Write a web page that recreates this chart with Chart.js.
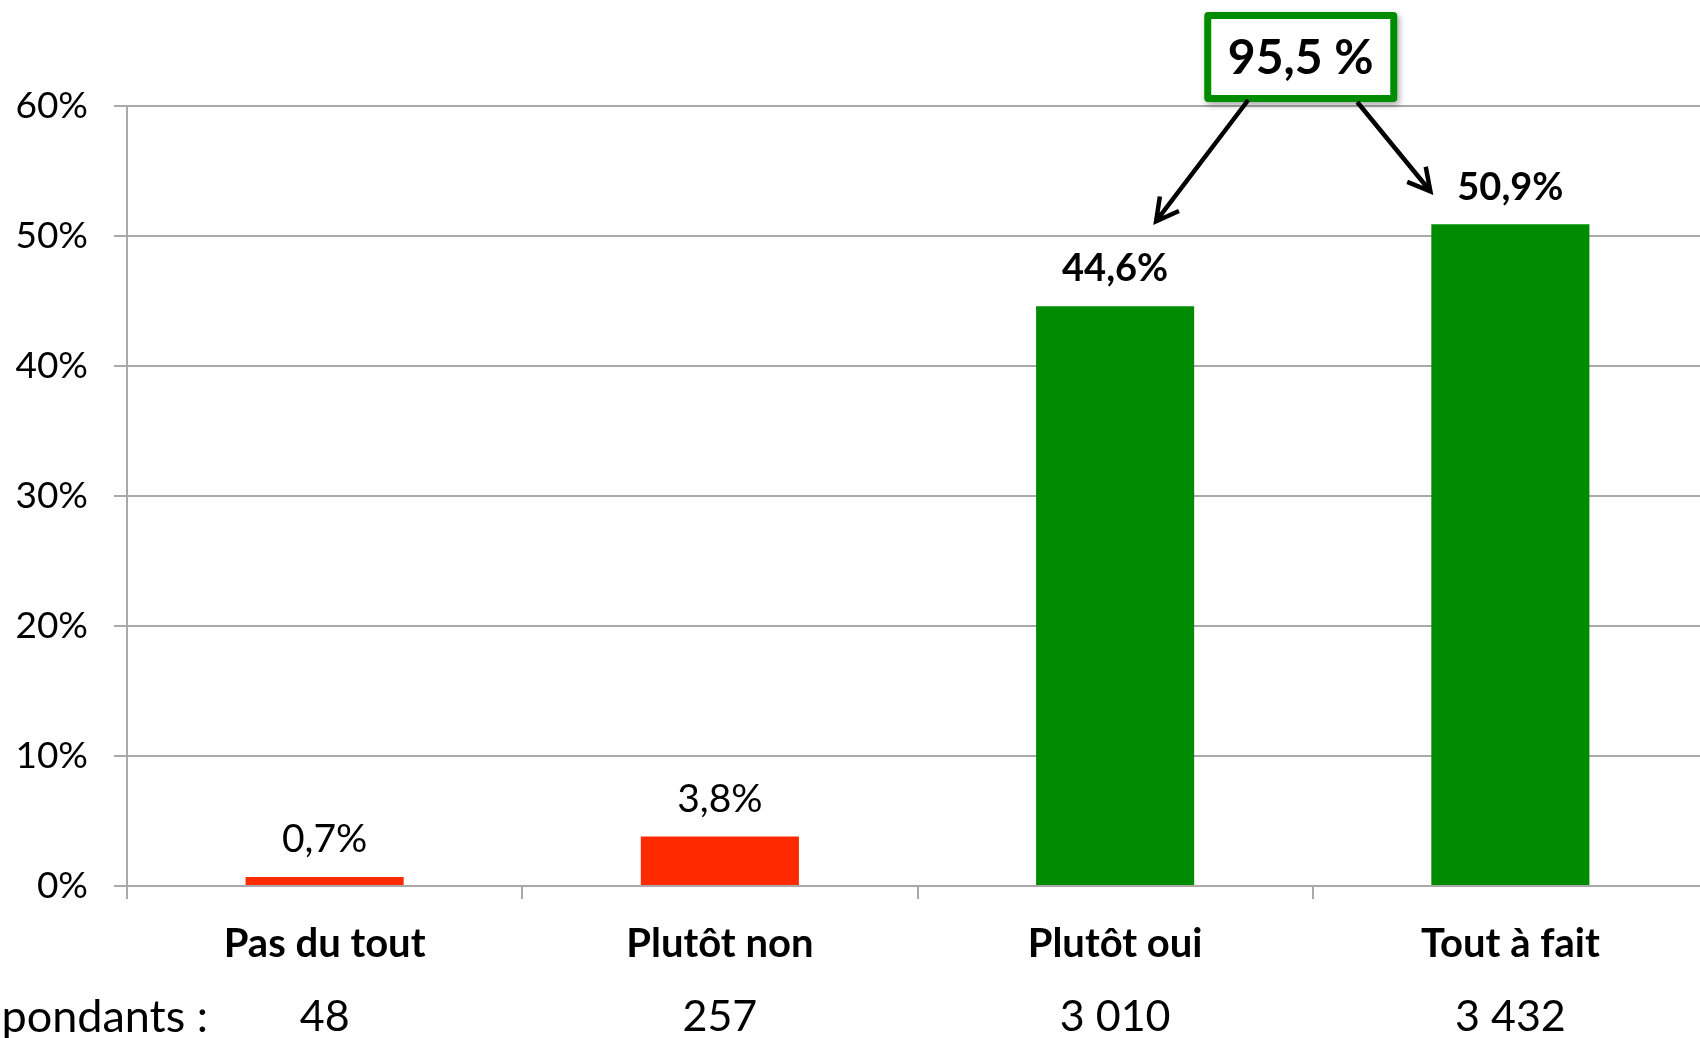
<!DOCTYPE html>
<html lang="fr">
<head>
<meta charset="utf-8">
<script src="https://cdn.jsdelivr.net/npm/chart.js@4.4.1/dist/chart.umd.min.js"></script>
<style>
    html, body { margin: 0; padding: 0; background: #fff; overflow: hidden; }
    #wrap { position: relative; width: 1720px; height: 1038px; }
</style>
</head>
<body>
<div id="wrap"><canvas id="chart"></canvas></div>
<script>
'use strict';

/* ── Data ── */
const categories = ['Pas du tout', 'Plutôt non', 'Plutôt oui', 'Tout à fait'];
const percentages = [0.7, 3.8, 44.6, 50.9];
const respondents = [48, 257, 3010, 3432];
const yTicks = [0, 10, 20, 30, 40, 50, 60];
const respondentsLabel = 'Répondants :';

/* ── Palette ── */
const RED = '#ff2a00';
const GREEN = '#008c00';
const GRID = '#a9a9a9';
const FONT = "Lato, 'Open Sans', sans-serif";

const fmtPct = v => v.toFixed(1).replace('.', ',') + '%';
const fmtCount = n => String(n).replace(/\B(?=(\d{3})+(?!\d))/g, ' ');

/* ── Value labels above bars + respondents row ── */
const labelsPlugin = {
    id: 'labels',
    afterDatasetsDraw(chart) {
        const ctx = chart.ctx;
        const meta = chart.getDatasetMeta(0);
        const x = chart.scales.x;
        ctx.save();
        ctx.fillStyle = '#000';
        ctx.textAlign = 'center';
        ctx.textBaseline = 'middle';
        meta.data.forEach((bar, i) => {
            const bold = percentages[i] > 10;
            ctx.font = `${bold ? 'bold 38px' : '39px'} ${FONT}`;
            ctx.fillText(fmtPct(percentages[i]), bar.x, bar.y - 37);
        });

        // respondents row
        ctx.font = `43px ${FONT}`;
        const rowY = 1017;
        respondents.forEach((n, i) => {
            ctx.fillText(fmtCount(n), x.getPixelForValue(i), rowY);
        });
        ctx.textAlign = 'right';
        ctx.font = `45px ${FONT}`;
        ctx.fillText(respondentsLabel, 208, rowY);
        ctx.restore();
    },
};

/* ── 95,5 % callout with arrows ── */
const calloutPlugin = {
    id: 'callout',
    afterDraw(chart) {
        const ctx = chart.ctx;
        const meta = chart.getDatasetMeta(0);
        const b3 = meta.data[2];
        const b4 = meta.data[3];
        const total = percentages[2] + percentages[3];
        const text = total.toFixed(1).replace('.', ',') + ' %';

        const cx = (b3.x + b4.x) / 2 - 12;
        const w = 193, h = 90;
        const left = cx - w / 2;
        const top = chart.chartArea.top - 94;

        ctx.save();
        ctx.shadowColor = 'rgba(0,0,0,0.35)';
        ctx.shadowBlur = 6;
        ctx.shadowOffsetX = 2;
        ctx.shadowOffsetY = 3;
        ctx.fillStyle = GREEN;
        ctx.beginPath();
        ctx.roundRect(left, top, w, h, 4);
        ctx.fill();
        ctx.restore();

        ctx.save();
        ctx.fillStyle = '#fff';
        ctx.fillRect(left + 7, top + 7, w - 14, h - 14);
        ctx.fillStyle = '#000';
        ctx.font = `bold 48px ${FONT}`;
        ctx.textAlign = 'center';
        ctx.textBaseline = 'middle';
        ctx.fillText(text, cx, top + h / 2 + 2);

        // arrows
        const arrow = (x1, y1, x2, y2) => {
            const ang = Math.atan2(y2 - y1, x2 - x1);
            const len = 25;
            ctx.beginPath();
            ctx.moveTo(x1, y1);
            ctx.lineTo(x2, y2);
            ctx.moveTo(x2 - len * Math.cos(ang - 0.5), y2 - len * Math.sin(ang - 0.5));
            ctx.lineTo(x2, y2);
            ctx.lineTo(x2 - len * Math.cos(ang + 0.5), y2 - len * Math.sin(ang + 0.5));
            ctx.stroke();
        };
        ctx.strokeStyle = '#000';
        ctx.lineWidth = 4.5;
        ctx.lineJoin = 'miter';
        arrow(left + 44, top + h - 2, b3.x + 41, b3.y - 85);
        arrow(left + 153, top + h, b4.x - 80, b4.y - 33);
        ctx.restore();
    },
};

new Chart(document.getElementById('chart'), {
    type: 'bar',
    data: {
        labels: categories,
        datasets: [{
            data: percentages,
            backgroundColor: percentages.map(v => v > 10 ? GREEN : RED),
            borderWidth: 0,
            barPercentage: 0.4,
            categoryPercentage: 1,
        }],
    },
    options: {
        responsive: true,
        maintainAspectRatio: false,
        animation: false,
        layout: { padding: { top: 106, right: 12, bottom: 72, left: 0 } },
        plugins: {
            legend: { display: false },
            tooltip: { enabled: false },
        },
        scales: {
            y: {
                min: 0,
                max: 60,
                afterBuildTicks: s => { s.ticks = yTicks.map(v => ({ value: v })); },
                afterFit: s => { s.width = 127; },
                border: { display: true, color: GRID, width: 2 },
                grid: { color: GRID, lineWidth: 2, tickLength: 13 },
                ticks: {
                    padding: 26,
                    color: '#000',
                    font: { family: FONT, size: 37 },
                    callback: v => v + '%',
                },
            },
            x: {
                offset: true,
                afterFit: s => { s.height = 80; },
                border: { display: true, color: GRID, width: 2 },
                grid: {
                    offset: true,
                    drawOnChartArea: false,
                    color: GRID,
                    lineWidth: 2,
                    tickLength: 13,
                },
                ticks: {
                    padding: 21,
                    color: '#000',
                    font: { family: FONT, size: 40, weight: 'bold' },
                },
            },
        },
    },
    plugins: [labelsPlugin, calloutPlugin],
});
</script>
</body>
</html>
